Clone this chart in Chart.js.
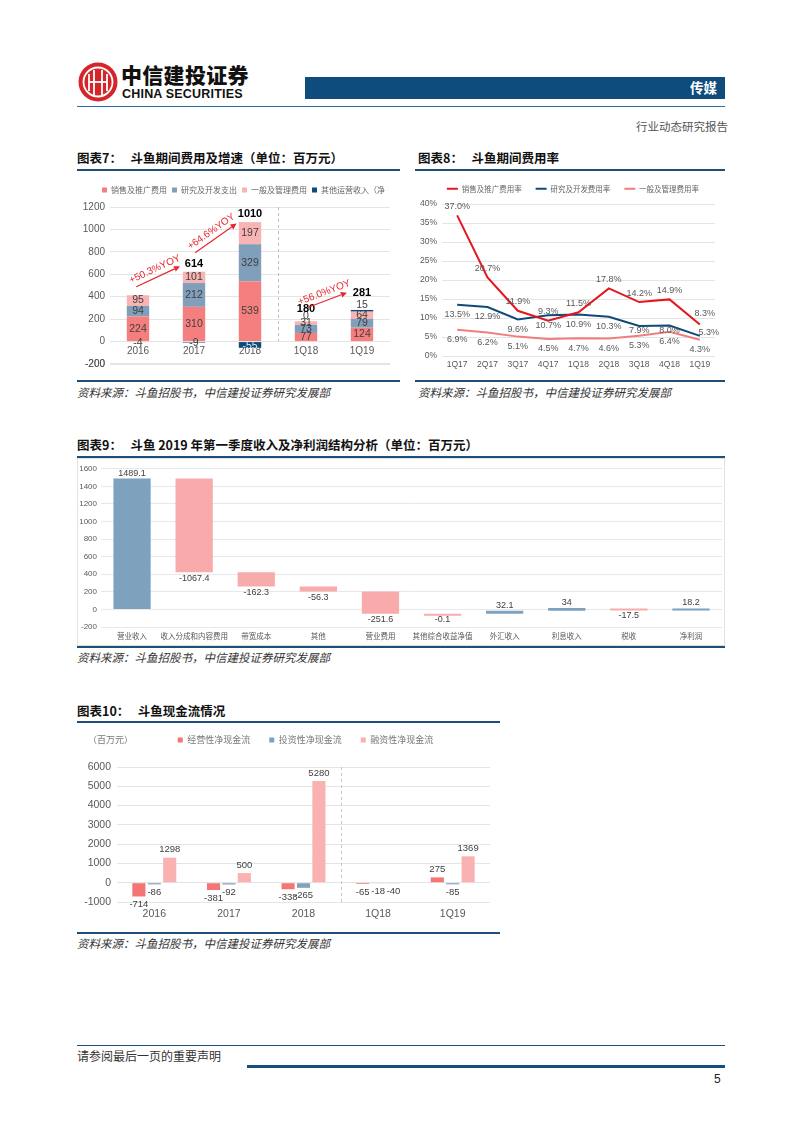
<!DOCTYPE html>
<html><head><meta charset="utf-8">
<script src="https://cdn.jsdelivr.net/npm/chart.js@4.4.1/dist/chart.umd.min.js"></script>
<style>
html,body{margin:0;padding:0}
body{width:802px;height:1133px;position:relative;background:#fff;overflow:hidden;font-family:'Liberation Sans','Noto Sans CJK SC',sans-serif}
.abs{position:absolute;white-space:nowrap;line-height:1}
.title{position:absolute;white-space:nowrap;line-height:1;font-family:'Noto Sans CJK SC',sans-serif;font-weight:700;font-size:12.5px;color:#111}
.rule{position:absolute;background:#1f4e79}
.src{position:absolute;white-space:nowrap;line-height:1;font-family:'Noto Sans CJK SC',sans-serif;font-style:italic;font-size:11.5px;color:#333}
canvas{position:absolute}
</style></head>
<body>
<svg class="abs" style="left:78px;top:62px" width="40" height="40" viewBox="0 0 40 40">
  <circle cx="20" cy="20" r="19.5" fill="#d5252b"/>
  <circle cx="20" cy="20" r="14.5" fill="none" stroke="#fff" stroke-width="1.8"/>
  <path d="M11 12 V29 M16 8 V33 M24 8 V33 M29 12 V29" stroke="#fff" stroke-width="1.8" fill="none"/>
  <path d="M11 20 H29" stroke="#fff" stroke-width="1.8"/>
</svg>
<div class="abs" style="left:121px;top:64px;font-family:'Noto Sans CJK SC';font-weight:900;font-size:21px;color:#111;letter-spacing:0.3px">中信建投证券</div>
<div class="abs" style="left:122px;top:88px;font-family:'Liberation Sans';font-weight:700;font-size:12.5px;color:#111;letter-spacing:0.2px">CHINA SECURITIES</div>
<div class="abs" style="left:305px;top:77px;width:420px;height:22px;background:#0d4c7c"></div>
<div class="abs" style="left:690px;top:81px;font-family:'Noto Sans CJK SC';font-weight:700;font-size:13.5px;color:#fff">传媒</div>
<div class="rule" style="left:77px;top:106px;width:648px;height:1px;background:#2f6fa8"></div>
<div class="abs" style="left:636px;top:121px;font-family:'Noto Sans CJK SC';font-size:11.5px;color:#555">行业动态研究报告</div>

<div class="title" style="left:77px;top:152px">图表7：&nbsp;&nbsp;&nbsp;斗鱼期间费用及增速（单位：百万元）</div>
<div class="rule" style="left:77px;top:169px;width:323px;height:2px"></div>
<canvas id="c7" width="323" height="200" style="left:77px;top:176px;width:323px;height:200px"></canvas>
<div class="rule" style="left:77px;top:380px;width:323px;height:2px"></div>
<div class="src" style="left:77px;top:387px">资料来源：斗鱼招股书，中信建投证券研究发展部</div>

<div class="title" style="left:418px;top:152px">图表8：&nbsp;&nbsp;&nbsp;斗鱼期间费用率</div>
<div class="rule" style="left:415px;top:169px;width:310px;height:2px"></div>
<canvas id="c8" width="310" height="200" style="left:415px;top:176px;width:310px;height:200px"></canvas>
<div class="rule" style="left:415px;top:380px;width:310px;height:2px"></div>
<div class="src" style="left:418px;top:387px">资料来源：斗鱼招股书，中信建投证券研究发展部</div>

<div class="title" style="left:77px;top:439px">图表9：&nbsp;&nbsp;&nbsp;斗鱼 2019 年第一季度收入及净利润结构分析（单位：百万元）</div>
<div class="rule" style="left:77px;top:456px;width:648px;height:2px"></div>
<div class="abs" style="left:77px;top:458px;width:646px;height:186px;border:1px solid #e2e2e2;border-bottom-color:#d5e8cf"></div>
<canvas id="c9" width="646" height="184" style="left:78px;top:460px;width:646px;height:184px"></canvas>
<div class="rule" style="left:77px;top:646px;width:648px;height:2px"></div>
<div class="src" style="left:77px;top:652px">资料来源：斗鱼招股书，中信建投证券研究发展部</div>

<div class="title" style="left:77px;top:705px">图表10：&nbsp;&nbsp;&nbsp;斗鱼现金流情况</div>
<div class="rule" style="left:77px;top:721px;width:423px;height:2px"></div>
<canvas id="c10" width="423" height="204" style="left:77px;top:726px;width:423px;height:204px"></canvas>
<div class="abs" style="left:88px;top:735px;font-family:'Noto Sans CJK SC';font-size:9px;color:#777">（百万元）</div>
<div class="rule" style="left:77px;top:932px;width:423px;height:2px"></div>
<div class="src" style="left:77px;top:938px">资料来源：斗鱼招股书，中信建投证券研究发展部</div>

<div class="rule" style="left:77px;top:1045px;width:648px;height:1px"></div>
<div class="abs" style="left:77px;top:1050px;font-family:'Noto Sans CJK SC';font-size:12px;color:#333">请参阅最后一页的重要声明</div>
<div class="rule" style="left:247px;top:1065px;width:478px;height:3px;background:#154d7c"></div>
<div class="abs" style="left:714px;top:1073px;font-family:'Liberation Sans';font-size:12px;color:#222">5</div>

<script>
// ================= DATA =================
// Chart 7: 斗鱼期间费用及增速
const c7Categories = ['2016', '2017', '2018', '1Q18', '1Q19'];
const c7Sales = [224, 310, 539, 77, 124];
const c7RD = [94, 212, 329, 73, 79];
const c7GA = [95, 101, 197, 31, 64];
const c7Other = [-4, -9, -55, 0, 15];
const c7Totals = [null, 614, 1010, 180, 281];
const c7GrowthLabels = ['+50.3%YOY', '+64.6%YOY', '+56.0%YOY'];
const c7SeriesNames = ['销售及推广费用', '研究及开发支出', '一般及管理费用', '其他运营收入（净'];
const c7YTicks = [-200, 1200, 200];

// Chart 8: 斗鱼期间费用率 (%)
const c8Categories = ['1Q17', '2Q17', '3Q17', '4Q17', '1Q18', '2Q18', '3Q18', '4Q18', '1Q19'];
const c8Sales = [37.0, 20.7, 11.9, 9.3, 11.5, 17.8, 14.2, 14.9, 8.3];
const c8RD = [13.5, 12.9, 9.6, 10.7, 10.9, 10.3, 7.9, 8.0, 5.3];
const c8GA = [6.9, 6.2, 5.1, 4.5, 4.7, 4.6, 5.3, 6.4, 4.3];
const c8SeriesNames = ['销售及推广费用率', '研究及开发费用率', '一般及管理费用率'];

// Chart 9: 2019Q1 收入及净利润结构 (waterfall)
const c9Categories = ['营业收入', '收入分成和内容费用', '带宽成本', '其他', '营业费用', '其他综合收益净值', '外汇收入', '利息收入', '税收', '净利润'];
const c9Values = [1489.1, -1067.4, -162.3, -56.3, -251.6, -0.1, 32.1, 34, -17.5, 18.2];
const c9IsTotal = [true, false, false, false, false, false, false, false, false, true];

// Chart 10: 斗鱼现金流情况
const c10Categories = ['2016', '2017', '2018', '1Q18', '1Q19'];
const c10Operating = [-714, -381, -338, -65, 275];
const c10Investing = [-86, -92, -265, -18, -85];
const c10Financing = [1298, 500, 5280, -40, 1369];
const c10SeriesNames = ['经营性净现金流', '投资性净现金流', '融资性净现金流'];

// ================= COMMON =================
const FONT = "'Liberation Sans','Noto Sans CJK SC',sans-serif";
const CJK = "'Noto Sans CJK SC',sans-serif";
Chart.defaults.font.family = FONT;
Chart.defaults.color = '#595959';
Chart.defaults.animation = false;
Chart.defaults.responsive = false;
Chart.defaults.maintainAspectRatio = false;
Chart.defaults.plugins.tooltip.enabled = false;
const plain = v => String(v);

function legendAdjust(gap, dx, dy) {
  return {
    id: 'legendAdjust',
    beforeLayout(chart) {
      const lg = chart.legend;
      if (lg && !lg._gapPatched) {
        const f = lg.fit;
        lg.fit = function () { f.call(this); this.height += gap; };
        lg._gapPatched = true;
      }
    },
    afterLayout(chart) {
      const lg = chart.legend;
      if (lg) { lg.left += dx; lg.right += dx; lg.top += dy; lg.bottom += dy; }
    }
  };
}
function flatLegend(chart) {
  const items = Chart.defaults.plugins.legend.labels.generateLabels(chart);
  items.forEach(it => { it.lineWidth = 0; it.fillStyle = it.strokeStyle; });
  return items;
}
function dashedDivider(idx, color, endAtZero) {
  return {
    id: 'divider',
    beforeDatasetsDraw(chart) {
      const {ctx, scales: {x, y}} = chart;
      const px = Math.round(x.getPixelForValue(idx)) + 0.5;
      ctx.save();
      ctx.strokeStyle = color; ctx.lineWidth = 1; ctx.setLineDash([3, 3]);
      ctx.beginPath();
      ctx.moveTo(px, y.getPixelForValue(y.max));
      ctx.lineTo(px, y.getPixelForValue(endAtZero ? 0 : y.min));
      ctx.stroke();
      ctx.restore();
    }
  };
}
// re-draw the lowest y tick (label + gridline) at the very end of the frame
const bottomTick = {
  id: 'bottomTick',
  afterDraw(chart) {
    const {ctx, scales: {y}, chartArea} = chart;
    const py = Math.round(y.getPixelForValue(y.min)) - 0.5;
    ctx.save();
    ctx.strokeStyle = '#e4e4e4'; ctx.lineWidth = 1;
    ctx.beginPath(); ctx.moveTo(chartArea.left, py); ctx.lineTo(chartArea.right, py); ctx.stroke();
    ctx.font = '10px ' + FONT; ctx.fillStyle = '#595959';
    ctx.textAlign = 'right'; ctx.textBaseline = 'middle';
    ctx.fillText(String(y.min), y.right - 5, y.getPixelForValue(y.min));
    ctx.restore();
  }
};

// ================= CHART 7 =================
const c7Labels = {
  id: 'c7Labels',
  afterDatasetsDraw(chart) {
    const {ctx, scales: {x, y}} = chart;
    ctx.save();
    ctx.textAlign = 'center'; ctx.textBaseline = 'middle';
    [0, 1, 2].forEach(d => {
      chart.getDatasetMeta(d).data.forEach((bar, i) => {
        const v = chart.data.datasets[d].data[i];
        ctx.font = '10.5px ' + FONT; ctx.fillStyle = '#404040';
        ctx.fillText(String(v), bar.x, (bar.y + bar.base) / 2);
      });
    });
    chart.getDatasetMeta(3).data.forEach((bar, i) => {
      const v = c7Other[i];
      const topVal = c7Sales[i] + c7RD[i] + c7GA[i] + Math.max(v, 0);
      const top = y.getPixelForValue(topVal);
      ctx.font = '10.5px ' + FONT;
      if (v < 0) {
        ctx.fillStyle = v <= -30 ? '#dde6ee' : '#404040';
        ctx.fillText(String(v), bar.x, (bar.y + bar.base) / 2 + 1);
      } else {
        ctx.fillStyle = '#404040';
        ctx.fillText(String(v), bar.x, top - 5);
      }
      if (c7Totals[i] !== null) {
        ctx.font = 'bold 11px ' + FONT; ctx.fillStyle = '#000';
        ctx.fillText(String(c7Totals[i]), bar.x, top - (v >= 0 ? (v > 0 ? 17 : 12) : 8));
      }
    });
    // growth arrows (annotation geometry in category-index / value space)
    const arrows = [
      {t: c7GrowthLabels[0], a: [-0.03, 489], b: [0.75, 671]},
      {t: c7GrowthLabels[1], a: [1.02, 792], b: [1.76, 1052]},
      {t: c7GrowthLabels[2], a: [3.02, 302], b: [3.73, 436]}
    ];
    arrows.forEach(ar => {
      const x0 = x.getPixelForValue(ar.a[0]), y0 = y.getPixelForValue(ar.a[1]);
      const x1 = x.getPixelForValue(ar.b[0]), y1 = y.getPixelForValue(ar.b[1]);
      const ang = Math.atan2(y1 - y0, x1 - x0);
      ctx.strokeStyle = '#e8262e'; ctx.fillStyle = '#e8262e'; ctx.lineWidth = 1.2;
      const hx = x1 - 6 * Math.cos(ang), hy = y1 - 6 * Math.sin(ang);
      ctx.beginPath(); ctx.moveTo(x0, y0); ctx.lineTo(hx, hy); ctx.stroke();
      ctx.beginPath();
      ctx.moveTo(x1, y1);
      ctx.lineTo(hx + 3 * Math.sin(ang), hy - 3 * Math.cos(ang));
      ctx.lineTo(hx - 3 * Math.sin(ang), hy + 3 * Math.cos(ang));
      ctx.closePath(); ctx.fill();
      const mx = (x0 + x1) / 2 + 8 * Math.sin(ang), my = (y0 + y1) / 2 - 8 * Math.cos(ang);
      ctx.save();
      ctx.translate(mx, my); ctx.rotate(ang);
      ctx.font = '10px ' + FONT; ctx.fillText(ar.t, 0, 0);
      ctx.restore();
    });
    ctx.restore();
  }
};

new Chart(document.getElementById('c7'), {
  type: 'bar',
  data: {
    labels: c7Categories,
    datasets: [
      {label: c7SeriesNames[0], data: c7Sales, backgroundColor: '#f57f7f'},
      {label: c7SeriesNames[1], data: c7RD, backgroundColor: '#7f9fbb'},
      {label: c7SeriesNames[2], data: c7GA, backgroundColor: '#f8b3b3'},
      {label: c7SeriesNames[3], data: c7Other, backgroundColor: '#0f4a78'}
    ]
  },
  options: {
    layout: {padding: {top: 5, right: 10, bottom: 12, left: 0}},
    datasets: {bar: {categoryPercentage: 0.4, barPercentage: 1}},
    plugins: {
      legend: {position: 'top', labels: {boxWidth: 5, boxHeight: 5, padding: 5, color: '#666', font: {size: 8, family: CJK}}}
    },
    scales: {
      x: {stacked: true, position: {y: 0}, grid: {display: false, drawTicks: false}, border: {display: false},
          ticks: {font: {size: 10}, color: '#595959', padding: 4}},
      y: {stacked: true, min: c7YTicks[0], max: c7YTicks[1],
          ticks: {stepSize: c7YTicks[2], font: {size: 10}, color: '#595959', padding: 5, callback: plain},
          grid: {color: '#e4e4e4', drawTicks: false}, border: {display: false},
          afterFit(s) { s.width = 33; }}
    }
  },
  plugins: [legendAdjust(3, 10, 0), dashedDivider(2.5, '#bfbfbf', true), c7Labels, bottomTick]
});

// ================= CHART 8 =================
const c8Labels = {
  id: 'c8Labels',
  afterDatasetsDraw(chart) {
    const {ctx} = chart;
    const off = [
      (i) => i === 8 ? [5, -11] : [0, -9],
      (i) => i === 8 ? [9, -3] : (i === 6 || i === 7) ? [0, 5] : [0, 10],
      (i) => [0, 10]
    ];
    ctx.save();
    ctx.textAlign = 'center'; ctx.textBaseline = 'middle';
    ctx.font = '9px ' + FONT; ctx.fillStyle = '#595959';
    chart.data.datasets.forEach((ds, d) => {
      chart.getDatasetMeta(d).data.forEach((pt, i) => {
        const [dx, dy] = off[d](i);
        ctx.fillText(ds.data[i].toFixed(1) + '%', pt.x + dx, pt.y + dy);
      });
    });
    ctx.restore();
  }
};
new Chart(document.getElementById('c8'), {
  type: 'line',
  data: {
    labels: c8Categories,
    datasets: [
      {label: c8SeriesNames[0], data: c8Sales, borderColor: '#e5161e', backgroundColor: '#e5161e'},
      {label: c8SeriesNames[1], data: c8RD, borderColor: '#0f4a78', backgroundColor: '#0f4a78'},
      {label: c8SeriesNames[2], data: c8GA, borderColor: '#f27d7d', backgroundColor: '#f27d7d'}
    ]
  },
  options: {
    layout: {padding: {top: 0, right: 10, bottom: 0, left: 0}},
    elements: {line: {borderWidth: 2, tension: 0}, point: {radius: 0}},
    plugins: {
      legend: {position: 'top', labels: {boxWidth: 11, boxHeight: 2, padding: 14, color: '#666', font: {size: 7.5, family: CJK}, generateLabels: flatLegend}}
    },
    scales: {
      x: {offset: true, grid: {display: false, drawTicks: false}, border: {display: false},
          ticks: {font: {size: 8.5}, color: '#595959', padding: 4},
          afterFit(s) { s.height = 20; }},
      y: {min: 0, max: 40,
          ticks: {stepSize: 5, font: {size: 8.5}, color: '#595959', padding: 5, callback: v => v + '%'},
          grid: {color: '#e4e4e4', drawTicks: false}, border: {display: false},
          afterFit(s) { s.width = 27; }}
    }
  },
  plugins: [legendAdjust(-3.5, 8, -5), c8Labels]
});

// ================= CHART 9 =================
let c9Run = 0;
const c9Ranges = c9Values.map((v, i) => {
  if (c9IsTotal[i]) { c9Run = v; return [0, v]; }
  const s = c9Run; c9Run = +(c9Run + v).toFixed(1); return [s, c9Run];
});
const c9Colors = c9Values.map((v, i) => (c9IsTotal[i] || v > 0) ? '#7ea2bd' : '#f9abab');
const c9Labels = {
  id: 'c9Labels',
  afterDatasetsDraw(chart) {
    const {ctx, scales: {y}} = chart;
    ctx.save();
    ctx.textAlign = 'center'; ctx.textBaseline = 'middle';
    ctx.font = '9px ' + FONT; ctx.fillStyle = '#404040';
    chart.getDatasetMeta(0).data.forEach((bar, i) => {
      const v = c9Values[i], r = c9Ranges[i];
      const up = c9IsTotal[i] || v > 0;
      const py = up ? y.getPixelForValue(Math.max(r[0], r[1])) - 5 : y.getPixelForValue(Math.min(r[0], r[1])) + 6;
      ctx.fillText(String(v), bar.x, py);
    });
    ctx.restore();
  }
};
new Chart(document.getElementById('c9'), {
  type: 'bar',
  data: {labels: c9Categories, datasets: [{data: c9Ranges, backgroundColor: c9Colors, minBarLength: 2}]},
  options: {
    layout: {padding: {top: 6, right: 2, bottom: 0, left: 0}},
    datasets: {bar: {categoryPercentage: 0.6, barPercentage: 1}},
    plugins: {legend: {display: false}},
    scales: {
      x: {grid: {display: false, drawTicks: false}, border: {display: false},
          ticks: {font: {size: 7.5, family: CJK}, color: '#595959', padding: 5, autoSkip: false, maxRotation: 0},
          afterFit(s) { s.height = 17; }},
      y: {min: -200, max: 1600,
          ticks: {stepSize: 200, font: {size: 8}, color: '#595959', padding: 4, callback: plain},
          grid: {color: '#e8e8e8', drawTicks: false}, border: {display: false},
          afterFit(s) { s.width = 23; }}
    }
  },
  plugins: [c9Labels]
});

// ================= CHART 10 =================
const c10Labels = {
  id: 'c10Labels',
  afterDatasetsDraw(chart) {
    const {ctx} = chart;
    ctx.save();
    ctx.textAlign = 'center'; ctx.textBaseline = 'middle';
    ctx.font = '9.5px ' + FONT; ctx.fillStyle = '#404040';
    chart.data.datasets.forEach((ds, d) => {
      chart.getDatasetMeta(d).data.forEach((bar, i) => {
        const v = ds.data[i];
        ctx.fillText(String(v), bar.x, v >= 0 ? bar.y - 8 : bar.y + 8);
      });
    });
    ctx.restore();
  }
};
new Chart(document.getElementById('c10'), {
  type: 'bar',
  data: {
    labels: c10Categories,
    datasets: [
      {label: c10SeriesNames[0], data: c10Operating, backgroundColor: '#f47575'},
      {label: c10SeriesNames[1], data: c10Investing, backgroundColor: '#7fa2bd'},
      {label: c10SeriesNames[2], data: c10Financing, backgroundColor: '#f9b1b1'}
    ]
  },
  options: {
    layout: {padding: {top: 1, right: 10, bottom: 0, left: 0}},
    datasets: {bar: {categoryPercentage: 0.62, barPercentage: 0.85}},
    plugins: {
      legend: {position: 'top', labels: {boxWidth: 5, boxHeight: 5, padding: 19, color: '#777', font: {size: 9, family: CJK}}}
    },
    scales: {
      x: {grid: {display: false, drawTicks: false}, border: {display: false},
          ticks: {font: {size: 10.5}, color: '#595959', padding: 6},
          afterFit(s) { s.height = 28; }},
      y: {min: -1000, max: 6000,
          ticks: {stepSize: 1000, font: {size: 10.5}, color: '#595959', padding: 6, callback: plain},
          grid: {color: '#e4e4e4', drawTicks: false}, border: {display: false},
          afterFit(s) { s.width = 40; }}
    }
  },
  plugins: [legendAdjust(2, 22, -10.5), dashedDivider(2.5, '#c8c8c8', false), c10Labels]
});
</script>
</body></html>
